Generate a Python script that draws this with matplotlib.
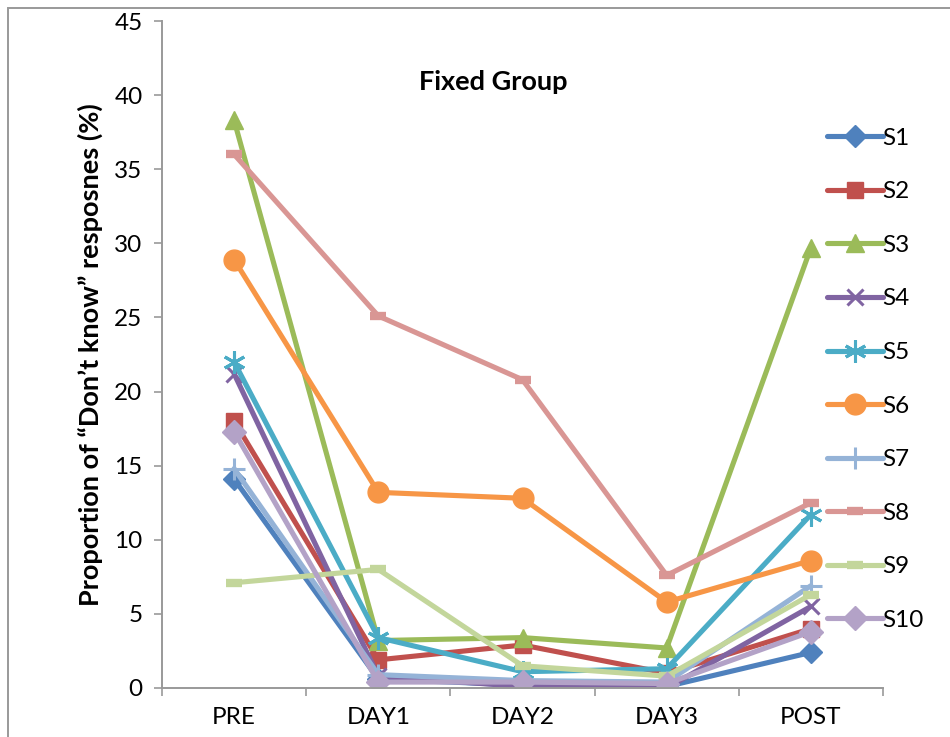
import matplotlib.pyplot as plt
import numpy as np
from matplotlib.patches import Rectangle

plt.rcParams['font.family'] = ['Lato', 'DejaVu Sans']

sessions = ['PRE', 'DAY1', 'DAY2', 'DAY3', 'POST']

s1 = [14.1, 0.6, 0.2, 0.1, 2.4]
s2 = [18.0, 1.9, 2.9, 1.0, 4.0]
s3 = [38.3, 3.2, 3.4, 2.7, 29.7]
s4 = [21.2, 0.8, 0.1, 0.0, 5.5]
s5 = [22.0, 3.4, 1.1, 1.3, 11.7]
s6 = [28.9, 13.2, 12.8, 5.8, 8.6]
s7 = [14.8, 0.9, 0.5, 0.4, 6.9]
s8 = [36.0, 25.1, 20.8, 7.6, 12.5]
s9 = [7.1, 8.0, 1.5, 0.8, 6.3]
s10 = [17.3, 0.4, 0.4, 0.3, 3.8]

names = ['S1', 'S2', 'S3', 'S4', 'S5', 'S6', 'S7', 'S8', 'S9', 'S10']
series = [s1, s2, s3, s4, s5, s6, s7, s8, s9, s10]

colours = ['#4F81BD', '#C0504D', '#9BBB59', '#8064A2', '#4BACC6',
           '#F79646', '#95B3D7', '#D99694', '#C3D69B', '#B3A2C7']
# (marker, size, edge width)
markers = [('D', 11, 1), ('s', 12, 1), ('^', 13, 1), ('x', 12, 2.2), ((6, 2, 0), 16, 2.2),
           ('o', 15, 1), ('+', 16, 2.2), ('_', 11, 6), ('_', 11, 6), ('D', 12, 1)]

fig = plt.figure(figsize=(9.5, 7.37), dpi=100)
ax = fig.add_axes([162/950, 1-688/737, (883-162)/950, (688-21)/737])

x = np.arange(len(sessions))
for name, vals, c, (m, ms, mew) in zip(names, series, colours, markers):
    ax.plot(x, vals, color=c, lw=3.7, marker=m, ms=ms, mew=mew,
            mec=c, mfc=c, label=name, solid_capstyle='round')

ax.set_xlim(-0.5, 4.5)
ax.set_ylim(0, 45)
ax.set_yticks(np.arange(0, 46, 5))
ax.set_xticks(x)
ax.set_xticklabels(sessions)
ax.set_xticks(np.arange(-0.5, 4.6, 1), minor=True)
ax.tick_params(axis='x', which='major', length=0, labelsize=17.5, pad=14)
ax.tick_params(axis='x', which='minor', length=6, color='#999999', width=1.2)
ax.tick_params(axis='y', length=6, color='#999999', width=1.2, labelsize=17.5, pad=8)

for side in ['top', 'right']:
    ax.spines[side].set_visible(False)
for side in ['left', 'bottom']:
    ax.spines[side].set_color('#999999')
    ax.spines[side].set_linewidth(1.4)

ax.set_ylabel('Proportion of \u201cDon\u2019t know\u201d resposnes (%)',
              fontsize=19.5, fontweight='bold', labelpad=8)
fig.text(493/950, 1-82/737, 'Fixed Group', fontsize=19.5, fontweight='bold',
         ha='center', va='center')

fig.legend(loc='upper left', bbox_to_anchor=(817/950, 1-118/737), frameon=False,
           fontsize=17.5, handlelength=2.3, handletextpad=0.0, labelspacing=1.34,
           borderaxespad=0)

# outer chart border
fig.patches.append(Rectangle((8/950, -0.1), 1.2, 1-8/737+0.1, transform=fig.transFigure,
                             fill=False, edgecolor='#999999', lw=1.4))

fig.savefig('out.png', dpi=100)
